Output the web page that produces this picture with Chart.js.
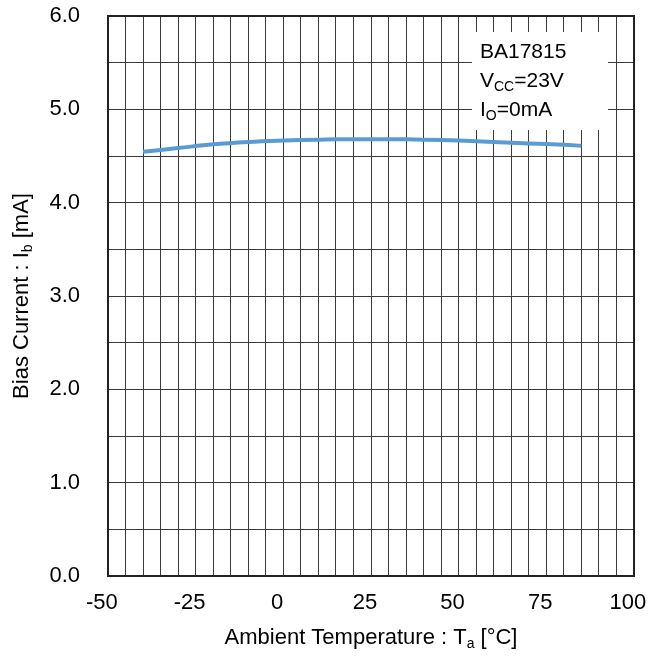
<!DOCTYPE html>
<html>
<head>
<meta charset="utf-8">
<script src="https://cdn.jsdelivr.net/npm/chart.js@4/dist/chart.umd.min.js"></script>
<style>
html,body{margin:0;padding:0;background:#fff;}
#wrap{width:653px;height:661px;position:relative;}
</style>
</head>
<body>
<div id="wrap"><canvas id="c" width="653" height="661"></canvas></div>
<script>
// ---- data ----
const temperatures = [-40, -30, -20, -10, 0, 10, 20, 30, 40, 50, 60, 70, 80, 85];
const biasCurrent  = [4.545, 4.585, 4.625, 4.65, 4.665, 4.675, 4.68, 4.68, 4.675, 4.665, 4.65, 4.635, 4.62, 4.61];
const xTickLabels = [-50, -25, 0, 25, 50, 75, 100];
const yTickLabels = [0, 1, 2, 3, 4, 5, 6];
const annotationLines = [
  [{t:'BA17815'}],
  [{t:'V'},{t:'CC',sub:true},{t:'=23V'}],
  [{t:'I'},{t:'O',sub:true},{t:'=0mA'}]
];
const xTitle = [{t:'Ambient Temperature : T'},{t:'a',sub:true},{t:' [°C]'}];
const yTitle = [{t:'Bias Current : I'},{t:'b',sub:true},{t:' [mA]'}];

const FONT = '"Liberation Sans", Arial, sans-serif';
const FS = 22;
const FS_NOTE = 21;

function richWidth(ctx, parts, fs){
  let w = 0;
  for (const p of parts){
    ctx.font = (p.sub ? Math.round(fs*0.65) : fs) + 'px ' + FONT;
    w += ctx.measureText(p.t).width;
  }
  return w;
}
function drawRich(ctx, parts, x, y, fs){
  let cx = x;
  ctx.textBaseline = 'alphabetic';
  ctx.textAlign = 'left';
  for (const p of parts){
    const f = p.sub ? Math.round(fs*0.65) : fs;
    ctx.font = f + 'px ' + FONT;
    ctx.fillText(p.t, cx, p.sub ? y + fs*0.2 : y);
    cx += ctx.measureText(p.t).width;
  }
}

const decor = {
  id: 'decor',
  afterDatasetsDraw(chart){
    const ctx = chart.ctx;
    const a = chart.chartArea;
    ctx.save();
    // frame
    ctx.strokeStyle = '#222';
    ctx.lineWidth = 2;
    ctx.strokeRect(a.left, a.top, a.right - a.left, a.bottom - a.top);
    // annotation box
    ctx.fillStyle = '#fff';
    ctx.fillRect(472, 32, 136, 98);
    ctx.fillStyle = '#000';
    const bases = [58, 87, 116];
    annotationLines.forEach((ln, i) => drawRich(ctx, ln, 480, bases[i], FS_NOTE));
    // x title
    const xw = richWidth(ctx, xTitle, FS);
    drawRich(ctx, xTitle, (a.left + a.right)/2 - xw/2, 644, FS);
    // y title
    const yw = richWidth(ctx, yTitle, FS);
    ctx.translate(28, (a.top + a.bottom)/2);
    ctx.rotate(-Math.PI/2);
    drawRich(ctx, yTitle, -yw/2, 0, FS);
    ctx.restore();
  }
};

function noPad(s){ s.paddingTop = 0; s.paddingBottom = 0; s.paddingLeft = 0; s.paddingRight = 0; }

new Chart(document.getElementById('c'), {
  type: 'line',
  data: {
    datasets: [{
      data: temperatures.map((t, i) => ({x: t, y: biasCurrent[i]})),
      borderColor: '#5b9bd5',
      borderWidth: 4,
      pointRadius: 0,
      tension: 0.4,
      fill: false
    }]
  },
  options: {
    responsive: false,
    animation: false,
    devicePixelRatio: 1,
    layout: { padding: { left: 0, top: 16, right: 19, bottom: 0 } },
    plugins: { legend: { display: false }, tooltip: { enabled: false } },
    scales: {
      x: {
        type: 'linear',
        min: -50, max: 100,
        afterFit(s){ s.height = 85; noPad(s); },
        grid: { color: '#3a3a3a', lineWidth: 1, drawTicks: false },
        border: { display: true, color: '#000', width: 2 },
        ticks: {
          stepSize: 5, autoSkip: false, maxRotation: 0, padding: 14,
          color: '#000', font: { family: FONT, size: FS },
          callback: v => xTickLabels.includes(v) ? String(v) + '  ' : ''
        }
      },
      y: {
        min: 0, max: 6,
        afterFit(s){ s.width = 108; noPad(s); },
        grid: { color: '#3a3a3a', lineWidth: 1, drawTicks: false },
        border: { display: true, color: '#000', width: 2 },
        ticks: {
          stepSize: 0.5, autoSkip: false, padding: 28,
          color: '#000', font: { family: FONT, size: FS },
          callback: v => yTickLabels.includes(v) ? v.toFixed(1) : ''
        }
      }
    }
  },
  plugins: [decor]
});
</script>
</body>
</html>
